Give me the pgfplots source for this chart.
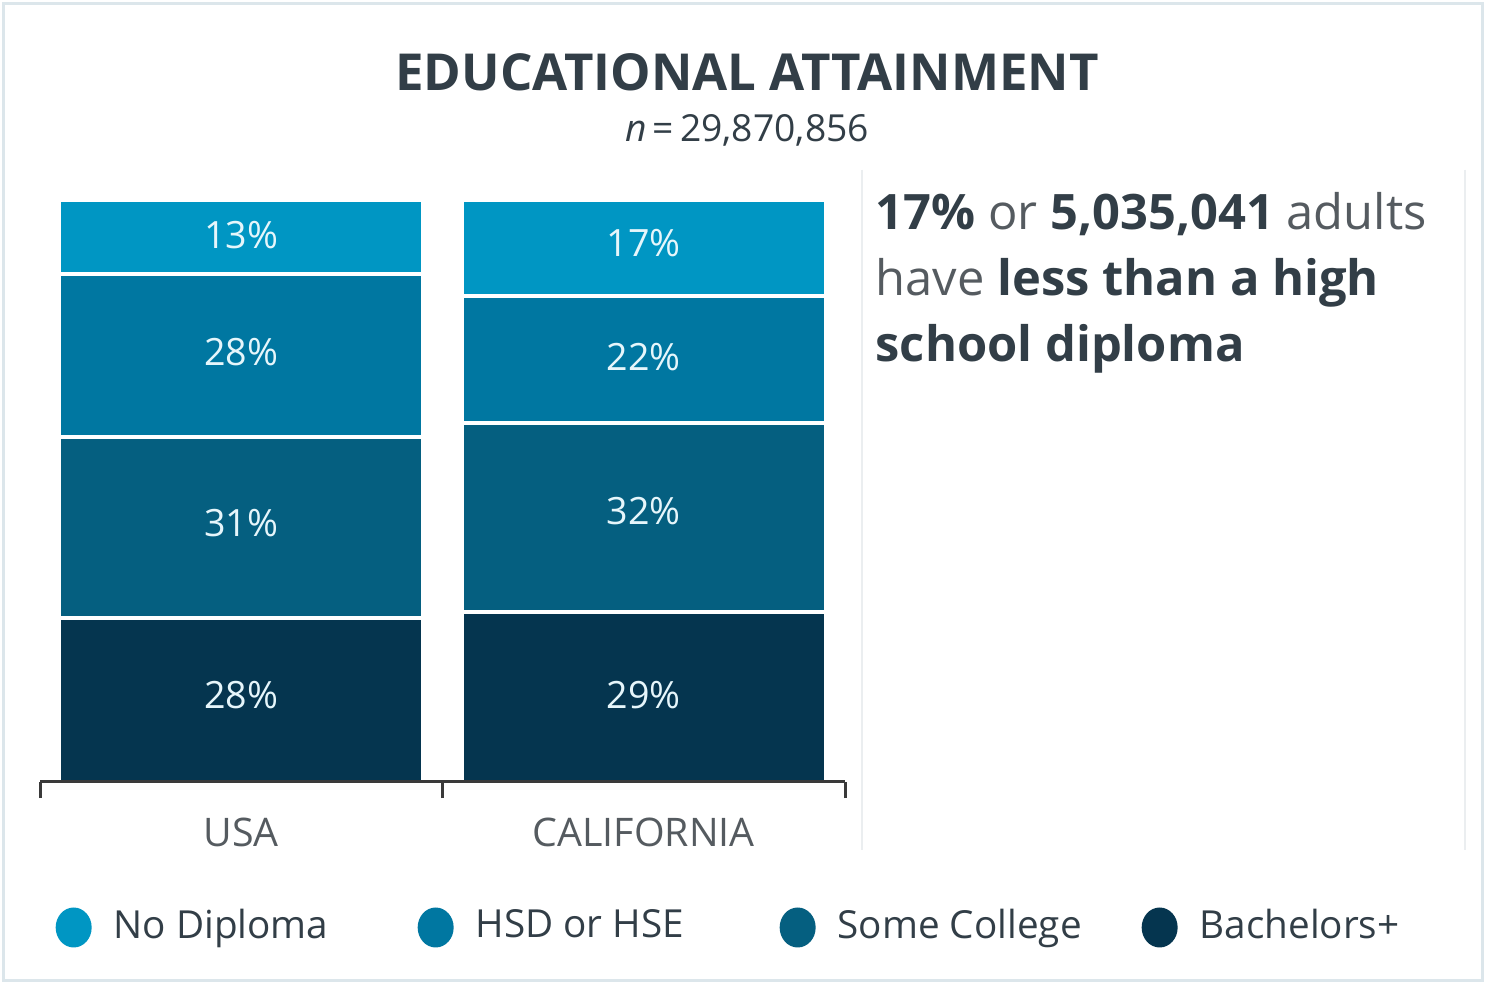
\documentclass[border=0pt]{standalone}
\usepackage{fontspec}
\setmainfont{Open Sans}
\usepackage{pgfplots}
\pgfplotsset{compat=1.18}
\definecolor{nodip}{HTML}{0096C3}
\definecolor{hsd}{HTML}{0077A1}
\definecolor{somecol}{HTML}{055F80}
\definecolor{bach}{HTML}{05354F}
\definecolor{titlec}{HTML}{323E47}
\definecolor{graytext}{HTML}{555B60}
\definecolor{axisc}{HTML}{3A3A3A}
\definecolor{framec}{HTML}{DCE6EB}
\definecolor{sepc}{HTML}{EBEEF0}
\definecolor{lblc}{HTML}{E6F6FB}
\begin{document}
\begin{tikzpicture}
\useasboundingbox (0mm,0mm) rectangle (148.6mm,98.4mm);
\fill[white] (0mm,0mm) rectangle (148.6mm,98.4mm);
\draw[framec, line width=0.35mm] (0.35mm,0.35mm) rectangle (148.25mm,98.05mm);
\draw[sepc, line width=0.2mm] (86.2mm,81.4mm) -- (86.2mm,13.4mm);
\draw[sepc, line width=0.2mm] (146.5mm,81.4mm) -- (146.5mm,13.4mm);
\node[font=\fontsize{14.5}{17}\selectfont\bfseries, text=titlec] at (74.7mm,91.2mm) {EDUCATIONAL ATTAINMENT};
\node[font=\fontsize{10.6}{13}\selectfont, text=titlec] at (74.7mm,85.4mm) {\textit{n}\,=\,29,870,856};
\node[anchor=base west, align=left, inner sep=0pt, text=graytext, font=\fontsize{13.9}{18.8}\selectfont] at (87.5mm,62.2mm)
  {\textcolor{titlec}{\bfseries 17\%} or \textcolor{titlec}{\bfseries 5,035,041} adults\\
   have \textcolor{titlec}{\bfseries less than a high}\\
   \textcolor{titlec}{\bfseries school diploma}};
\begin{axis}[
  at={(4mm,20.2mm)}, anchor=south west,
  scale only axis, width=80.5mm, height=58.2mm,
  xmin=-0.5, xmax=1.5, ymin=0, ymax=100,
  ybar stacked, bar width=0.905,
  axis y line=none, axis x line=bottom,
  x axis line style={-, line width=0.3mm, color=axisc},
  xtick={-0.5,0.5,1.5}, xticklabels={},
  major tick length=1.6mm, tick align=outside,
  xtick style={line width=0.3mm, color=axisc},
  extra x ticks={0,1}, extra x tick labels={USA,CALIFORNIA},
  extra x tick style={major tick length=0pt, xticklabel style={anchor=base, yshift=-6.5mm, text=graytext, font=\fontsize{11.2}{14}\selectfont}},
  axis on top,
  reverse legend,
  legend columns=4,
  legend style={at={(0.0186,-0.2500)}, anchor=west, draw=none, fill=none, inner sep=0pt,
    nodes={inner sep=0pt}, font=\fontsize{11}{13}\selectfont, text=titlec},
  legend image code/.code={\fill[#1, draw=none] (1.8mm,-0.15mm) ellipse [x radius=1.8mm, y radius=2mm];},
]
\addplot[fill=bach, draw=white, line width=0.4mm] coordinates {(0,28.2) (1,29.2)};
\addlegendentry{\makebox[32.6mm][l]{\hspace{2.2mm}Bachelors+}}
\addplot[fill=somecol, draw=white, line width=0.4mm] coordinates {(0,31.1) (1,32.5)};
\addlegendentry{\makebox[32.6mm][l]{\hspace{2.2mm}Some College}}
\addplot[fill=hsd, draw=white, line width=0.4mm] coordinates {(0,28.0) (1,21.8)};
\addlegendentry{\makebox[32.6mm][l]{\hspace{2.2mm}HSD or HSE}}
\addplot[fill=nodip, draw=white, line width=0.4mm] coordinates {(0,12.7) (1,16.5)};
\addlegendentry{\makebox[32.6mm][l]{\hspace{2.2mm}No Diploma}}
\end{axis}
\begin{axis}[
  at={(4mm,20.2mm)}, anchor=south west,
  scale only axis, width=80.5mm, height=58.2mm,
  xmin=-0.5, xmax=1.5, ymin=0, ymax=100,
  hide axis,
]
\addplot[only marks, mark=none, nodes near coords, point meta=explicit symbolic,
  nodes near coords align=center,
  every node near coord/.append style={text=lblc, font=\fontsize{10.7}{13}\selectfont, anchor=center}]
  coordinates {
  (0,14.9) [28\%] (0,44.5) [31\%] (0,73.9) [28\%] (0,94.0) [13\%]
  (1,14.9) [29\%] (1,46.6) [32\%] (1,73.0) [22\%] (1,92.6) [17\%]
  };
\end{axis}
\end{tikzpicture}
\end{document}
